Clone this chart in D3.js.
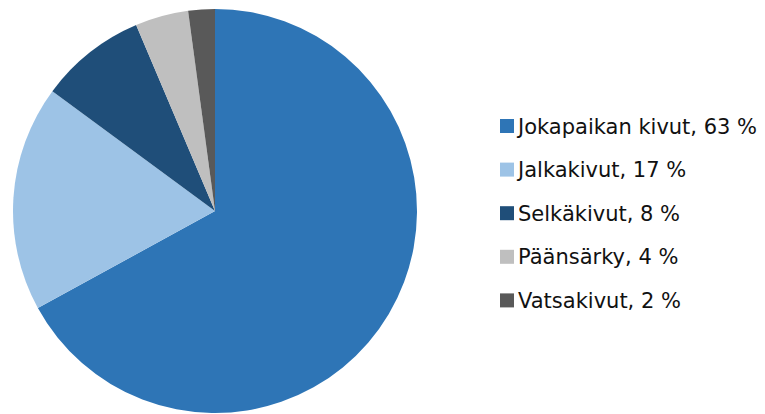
<!DOCTYPE html>
<html>
<head>
<meta charset="utf-8">
<script src="https://cdn.jsdelivr.net/npm/d3@7"></script>
<style>
  body { margin: 0; background: #fff; }
  svg text { font-family: "DejaVu Sans", sans-serif; }
</style>
</head>
<body>
<svg id="chart" width="765" height="414"></svg>
<script>
// Data
const categories = ["Jokapaikan kivut", "Jalkakivut", "Selkäkivut", "Päänsärky", "Vatsakivut"];
const values = [63, 17, 8, 4, 2];
const colors = ["#2E75B6", "#9DC3E6", "#1F4E79", "#BFBFBF", "#595959"];

const svg = d3.select("#chart");

// Pie geometry
const cx = 215, cy = 211, radius = 202;

const pie = d3.pie().sort(null).value(d => d.value);
const arc = d3.arc().innerRadius(0).outerRadius(radius);

const rows = categories.map((c, i) => ({ name: c, value: values[i], color: colors[i] }));

const pieG = svg.append("g")
    .attr("transform", `translate(${cx},${cy})`);

pieG.selectAll("path")
    .data(pie(rows))
    .join("path")
    .attr("d", arc)
    .attr("fill", d => d.data.color);

// Legend
const legendX = 500, legendY = 126, rowStep = 43.6;
const legendScale = d3.scalePoint()
    .domain(categories)
    .range([legendY, legendY + rowStep * (categories.length - 1)]);

const legend = svg.append("g");
const items = legend.selectAll("g")
    .data(rows)
    .join("g")
    .attr("transform", d => `translate(${legendX},${legendScale(d.name)})`);

items.append("rect")
    .attr("x", 0)
    .attr("y", -7)
    .attr("width", 14)
    .attr("height", 14)
    .attr("fill", d => d.color);

items.append("text")
    .attr("x", 18)
    .attr("y", 0)
    .attr("dy", "0.36em")
    .attr("font-size", 21)
    .attr("fill", "#111")
    .text(d => `${d.name}, ${d.value} %`);
</script>
</body>
</html>
